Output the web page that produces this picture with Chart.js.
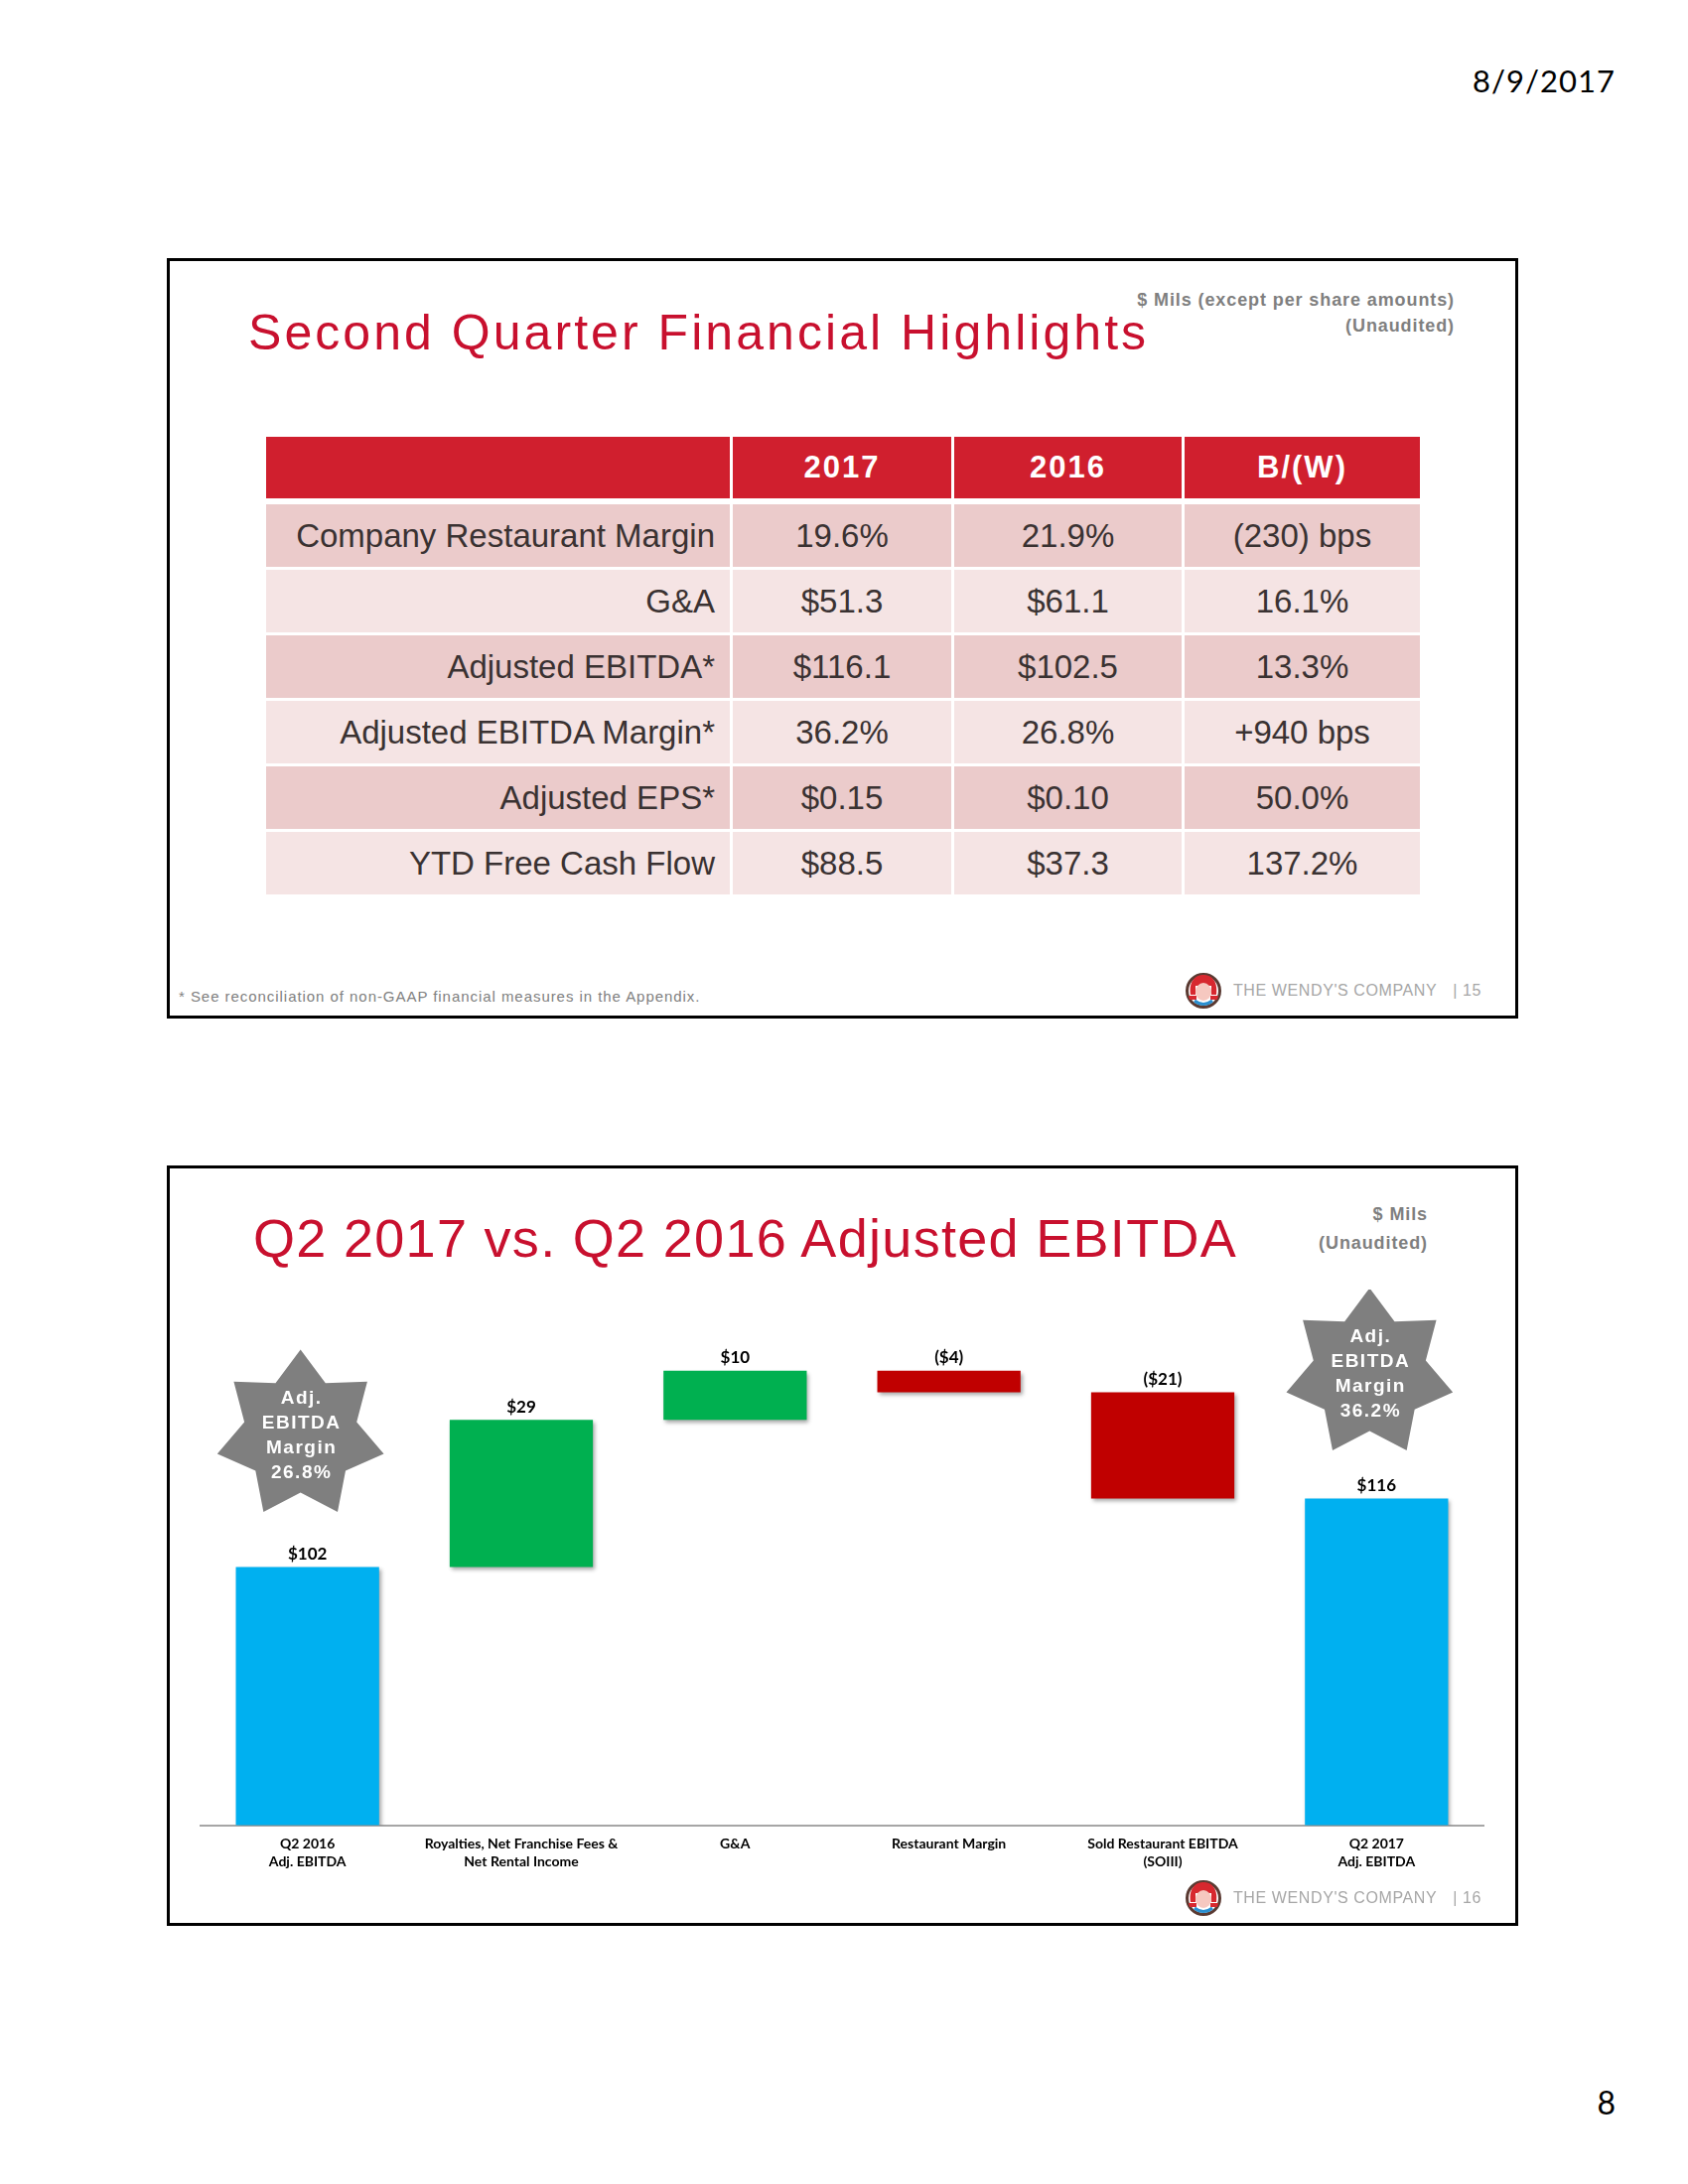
<!DOCTYPE html>
<html>
<head>
<meta charset="utf-8">
<script src="https://cdn.jsdelivr.net/npm/chart.js@4.4.1/dist/chart.umd.min.js"></script>
<style>
  body { margin: 0; background: #fff; }
  #page { position: relative; width: 1700px; height: 2200px; overflow: hidden; font-family: "Liberation Sans", Arial, sans-serif; }
  .t { position: absolute; white-space: nowrap; transform: translateY(-50%); line-height: 1.2; }
  .slide { position: absolute; border: 3px solid #000; box-sizing: border-box; }
  .title { color: #c8102e; }
  .note { color: #7f7f7f; font-weight: bold; font-size: 18px; letter-spacing: 0.9px; }
  .foot { color: #a6a6a6; font-size: 16px; letter-spacing: 0.6px; }
  .fnote { color: #808080; font-size: 15px; letter-spacing: 0.95px; }
  .logo { position: absolute; }
  #highlights { position: absolute; left: 268px; top: 440px; display: grid;
    grid-template-columns: 467px 220px 229px 237px; grid-template-rows: 65px repeat(6, 63px);
    column-gap: 3px; row-gap: 3px; }
  #highlights div { display: flex; align-items: center; justify-content: center; font-size: 33px; color: #3a3232; white-space: nowrap; }
  #highlights .hd { background: #d01f2e; color: #fff; font-weight: bold; font-size: 31px; letter-spacing: 2px; height: 62px; }
  #highlights .lbl { justify-content: flex-end; padding-right: 15px; }
  #highlights .dark { background: #ebcbcb; }
  #highlights .light { background: #f5e4e4; }
  #chartBox { position: absolute; left: 168px; top: 1299px; width: 1361px; height: 641px; }
</style>
</head>
<body>
<div id="page">
  <div class="t" style="right:73px; top:82px; font-family:Lato; font-size:31px; letter-spacing:1px;">8/9/2017</div>

  <div class="slide" style="left:168px; top:260px; width:1361px; height:766px;"></div>
  <div class="t title" style="left:250px; top:335px; font-size:50px; letter-spacing:3.05px;">Second Quarter Financial Highlights</div>
  <div class="t note" style="right:235px; top:303px;">$ Mils (except per share amounts)</div>
  <div class="t note" style="right:235px; top:329px;">(Unaudited)</div>
  <div id="highlights"></div>
  <div class="t fnote" style="left:180px; top:1004px;">* See reconciliation of non-GAAP financial measures in the Appendix.</div>
  <svg class="logo" style="left:1193px; top:979px;" width="38" height="38" viewBox="0 0 38 38">
    <circle cx="19" cy="19" r="16.5" fill="#fff" stroke="#5a3a32" stroke-width="3"/>
    <path d="M6 23 C4 8 12 3 19 3 C26 3 34 8 32 23 L27 23 L27 14 L11 14 L11 23 Z" fill="#d7282f"/>
    <ellipse cx="19" cy="20" rx="8" ry="9" fill="#f6c8c0"/>
    <path d="M4 24 L12 24 L12 28 L5 28 Z M26 24 L34 24 L33 28 L26 28 Z" fill="#d7282f"/>
    <path d="M10 29 Q19 36 28 29" stroke="#2a8fd0" stroke-width="3" fill="none"/>
  </svg>
  <div class="t foot" style="left:1242px; top:998px;">THE WENDY'S COMPANY<span style="margin-left:16px">| 15</span></div>

  <div class="slide" style="left:168px; top:1174px; width:1361px; height:766px;"></div>
  <div class="t title" style="left:255px; top:1247px; font-size:54px; letter-spacing:1.3px;">Q2 2017 vs. Q2 2016 Adjusted EBITDA</div>
  <div class="t note" style="right:262px; top:1224px;">$ Mils</div>
  <div class="t note" style="right:262px; top:1253px;">(Unaudited)</div>
  <div id="chartBox"><canvas id="bridge"></canvas></div>
  <svg class="logo" style="left:1193px; top:1893px;" width="38" height="38" viewBox="0 0 38 38">
    <circle cx="19" cy="19" r="16.5" fill="#fff" stroke="#5a3a32" stroke-width="3"/>
    <path d="M6 23 C4 8 12 3 19 3 C26 3 34 8 32 23 L27 23 L27 14 L11 14 L11 23 Z" fill="#d7282f"/>
    <ellipse cx="19" cy="20" rx="8" ry="9" fill="#f6c8c0"/>
    <path d="M4 24 L12 24 L12 28 L5 28 Z M26 24 L34 24 L33 28 L26 28 Z" fill="#d7282f"/>
    <path d="M10 29 Q19 36 28 29" stroke="#2a8fd0" stroke-width="3" fill="none"/>
  </svg>
  <div class="t foot" style="left:1242px; top:1912px;">THE WENDY'S COMPANY<span style="margin-left:16px">| 16</span></div>

  <div class="t" style="right:73px; top:2118px; font-family:Lato; font-size:32px;">8</div>
</div>

<script>
// highlights table
const rowLabels = ['Company Restaurant Margin', 'G&A', 'Adjusted EBITDA*', 'Adjusted EBITDA Margin*', 'Adjusted EPS*', 'YTD Free Cash Flow'];
const colHeads = ['2017', '2016', 'B/(W)'];
const vals2017 = ['19.6%', '$51.3', '$116.1', '36.2%', '$0.15', '$88.5'];
const vals2016 = ['21.9%', '$61.1', '$102.5', '26.8%', '$0.10', '$37.3'];
const valsBW = ['(230) bps', '16.1%', '13.3%', '+940 bps', '50.0%', '137.2%'];

// EBITDA bridge ($ Mils)
const categories = [['Q2 2016', 'Adj. EBITDA'], ['Royalties, Net Franchise Fees &', 'Net Rental Income'], 'G&A', 'Restaurant Margin', ['Sold Restaurant EBITDA', '(SOIII)'], ['Q2 2017', 'Adj. EBITDA']];
const q2016Ebitda = 102.5;
const bridgeSteps = [29.2, 9.8, -4.3, -21.1];
const q2017Ebitda = 116.1;
const barLabels = ['$102', '$29', '$10', '($4)', '($21)', '$116'];
const marginLabels = ['26.8%', '36.2%'];

const tbl = document.getElementById('highlights');
const cell = (txt, cls) => {
    const d = document.createElement('div');
    d.className = cls;
    d.textContent = txt;
    tbl.appendChild(d);
};
cell('', 'hd');
colHeads.forEach(h => cell(h, 'hd'));
rowLabels.forEach((lbl, i) => {
    const shade = i % 2 === 0 ? 'dark' : 'light';
    cell(lbl, 'lbl ' + shade);
    cell(vals2017[i], shade);
    cell(vals2016[i], shade);
    cell(valsBW[i], shade);
});

// floating bars for the bridge
let run = q2016Ebitda;
const floating = [[0, q2016Ebitda]];
bridgeSteps.forEach(s => {
    floating.push([run, run + s]);
    run += s;
});
floating.push([0, q2017Ebitda]);

const barColors = floating.map((r, i) => {
    if (i === 0 || i === floating.length - 1) return '#00b0f0';
    return r[1] >= r[0] ? '#00b050' : '#c00000';
});

const shadowPlugin = {
    id: 'shadow',
    beforeDatasetsDraw(chart) {
        const c = chart.ctx;
        c.save();
        c.shadowColor = 'rgba(0,0,0,0.35)';
        c.shadowBlur = 4;
        c.shadowOffsetX = 2;
        c.shadowOffsetY = 3;
    },
    afterDatasetsDraw(chart) {
        chart.ctx.restore();
    }
};

const labelPlugin = {
    id: 'barLabels',
    afterDatasetsDraw(chart) {
        const c = chart.ctx;
        const meta = chart.getDatasetMeta(0);
        c.save();
        c.font = 'bold 17px Lato';
        c.fillStyle = '#000';
        c.textAlign = 'center';
        c.textBaseline = 'middle';
        meta.data.forEach((bar, i) => {
            const top = Math.min(bar.y, bar.base);
            c.fillText(barLabels[i], bar.x, top - 13);
        });
        c.restore();
    }
};

// grey 7-point stars with the margin callouts
const starPlugin = {
    id: 'stars',
    afterDraw(chart) {
        const c = chart.ctx;
        const meta = chart.getDatasetMeta(0);
        const spots = [
            { index: 0, rise: 133, margin: marginLabels[0] },
            { index: floating.length - 1, rise: 126, margin: marginLabels[1] }
        ];
        spots.forEach(s => {
            const bar = meta.data[s.index];
            const cx = bar.x - 7;
            const cy = Math.min(bar.y, bar.base) - s.rise;
            const outer = 86, inner = 58, n = 7;
            c.save();
            c.beginPath();
            for (let k = 0; k < n * 2; k++) {
                const r = k % 2 === 0 ? outer : inner;
                const a = -Math.PI / 2 + k * Math.PI / n;
                const px = cx + r * Math.cos(a), py = cy + r * Math.sin(a);
                k === 0 ? c.moveTo(px, py) : c.lineTo(px, py);
            }
            c.closePath();
            c.fillStyle = '#7f7f7f';
            c.fill();
            c.fillStyle = '#fff';
            c.font = 'bold 19px "Liberation Sans"';
            c.letterSpacing = '1.5px';
            c.textAlign = 'center';
            c.textBaseline = 'middle';
            ['Adj.', 'EBITDA', 'Margin', s.margin].forEach((line, j) => {
                c.fillText(line, cx + 1, cy - 37 + j * 25);
            });
            c.restore();
        });
    }
};

new Chart(document.getElementById('bridge'), {
    type: 'bar',
    data: {
        labels: categories,
        datasets: [{
            data: floating,
            backgroundColor: barColors,
            barPercentage: 0.67,
            categoryPercentage: 1,
            borderSkipped: false,
            clip: 0
        }]
    },
    options: {
        responsive: true,
        maintainAspectRatio: false,
        animation: false,
        layout: { padding: { left: 34, right: 35, top: 0, bottom: 45 } },
        plugins: {
            legend: { display: false },
            tooltip: { enabled: false }
        },
        scales: {
            x: {
                grid: { display: false, drawTicks: false },
                border: { display: true, color: '#a6a6a6', width: 2 },
                ticks: {
                    color: '#000',
                    font: { family: 'Lato', size: 14, weight: 'bold', lineHeight: 1.3 },
                    padding: 10,
                    maxRotation: 0,
                    autoSkip: false
                }
            },
            y: { display: false, min: 51.2, max: 157.6 }
        }
    },
    plugins: [shadowPlugin, labelPlugin, starPlugin]
});
</script>
</body>
</html>
